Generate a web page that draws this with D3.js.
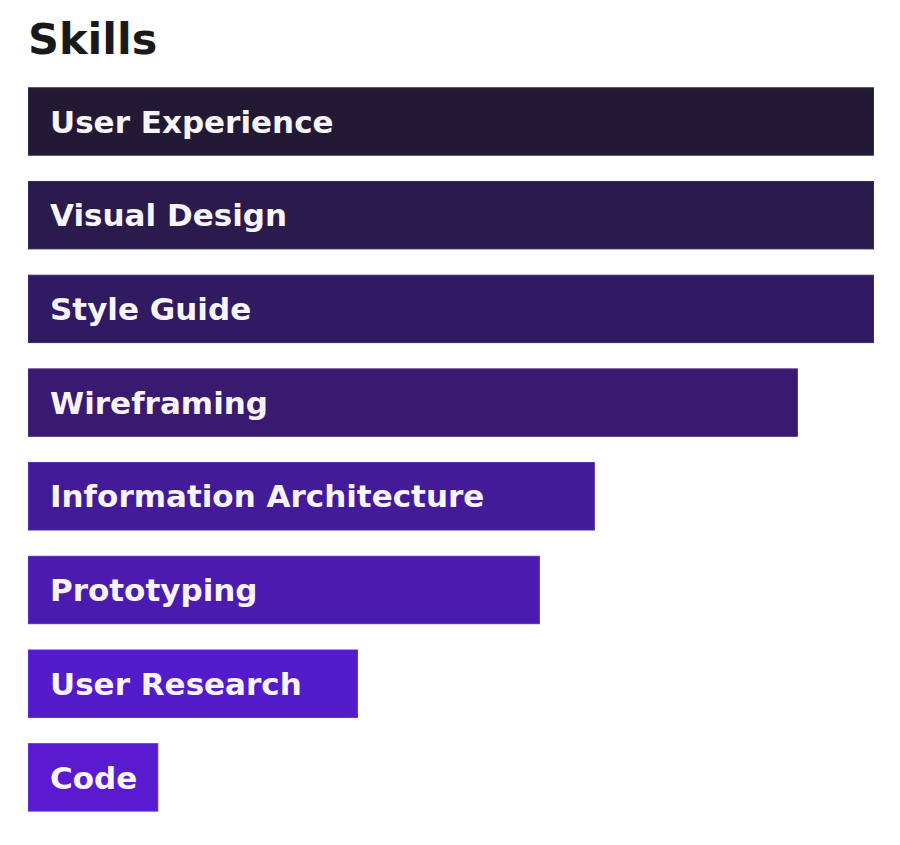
<!DOCTYPE html>
<html>
<head>
<meta charset="utf-8">
<script src="https://cdn.jsdelivr.net/npm/d3@7"></script>
<style>
  html, body { margin: 0; padding: 0; background: #fff; }
</style>
</head>
<body>
<svg id="chart" width="900" height="845"></svg>
<script>
const title = "Skills";
const skills = ["User Experience", "Visual Design", "Style Guide", "Wireframing",
  "Information Architecture", "Prototyping", "User Research", "Code"];
const levels = [100, 100, 100, 91, 67, 60.5, 39, 15.4];
const barColors = ["#221a35", "#2b1a4c", "#301a62", "#3a1970", "#431a98", "#4b1bb0", "#531bc9", "#5a1bd0"];
const strokeColors = ["#2e2745", "#37285c", "#3c2872", "#45287f", "#4e29a5", "#562abd", "#5e2ad4", "#652bdb"];

const svg = d3.select("#chart");

svg.append("text")
  .attr("x", 28).attr("y", 54)
  .attr("font-family", "DejaVu Sans, Verdana, sans-serif")
  .attr("font-weight", "bold")
  .attr("font-size", 43)
  .attr("fill", "#1a1a1a")
  .text(title);

const x = d3.scaleLinear().domain([0, 100]).range([28, 874]);
const y = d3.scaleBand().domain(skills).range([87.3, 811.6]).paddingInner(0.27).paddingOuter(0);

const g = svg.selectAll("g.bar").data(skills).join("g").attr("class", "bar");

g.append("rect")
  .attr("x", x(0) + 0.5)
  .attr("y", d => y(d) + 0.5)
  .attr("width", (d, i) => x(levels[i]) - x(0) - 1)
  .attr("height", y.bandwidth() - 1)
  .attr("fill", (d, i) => barColors[i])
  .attr("stroke", (d, i) => strokeColors[i])
  .attr("stroke-width", 1);

g.append("text")
  .attr("x", x(0) + 22)
  .attr("y", d => y(d) + y.bandwidth() / 2)
  .attr("dy", "0.36em")
  .attr("font-family", "DejaVu Sans, Verdana, sans-serif")
  .attr("font-weight", "bold")
  .attr("font-size", 31)
  .attr("fill", "#f7f5fb")
  .text(d => d);
</script>
</body>
</html>
